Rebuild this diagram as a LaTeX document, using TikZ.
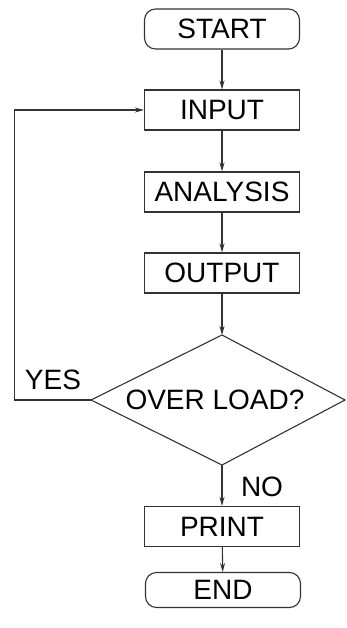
\documentclass[tikz,border=0pt]{standalone}
\usepackage{fontspec}
\setmainfont{Liberation Sans}
\usetikzlibrary{arrows.meta}
\begin{document}
\begin{tikzpicture}[x=1pt,y=-1pt,
  every node/.style={font=\fontsize{28}{32}\selectfont, text=black},
  boxnode/.style={draw=black!80, line width=1.1pt, minimum width=155pt, minimum height=40pt, inner sep=0pt},
  termnode/.style={boxnode, rounded corners=11pt},
  lbl/.style={inner sep=0pt},
  conn/.style={draw=black!80, line width=1.1pt, -{Stealth[length=9pt,width=5pt]}},
  plain/.style={draw=black!80, line width=1.1pt}
]
\useasboundingbox (0,0) rectangle (346,628);
\node[termnode] (start) at (222,29) {START};
\node[boxnode] (input) at (222,110) {INPUT};
\node[boxnode] (analysis) at (222,192) {ANALYSIS};
\node[boxnode] (output) at (222,273) {OUTPUT};
% decision diamond
\coordinate (dtop) at (222,335);
\coordinate (dleft) at (91,400);
\coordinate (dright) at (345,400);
\coordinate (dbot) at (222,465);
\draw[plain] (dtop) -- (dright) -- (dbot) -- (dleft) -- cycle;
\node[lbl] (dec) at (215,400) {OVER LOAD?};
\node[boxnode] (print) at (222,526.5) {PRINT};
\node[termnode, minimum height=35pt] (end) at (223,590) {END};
\node[lbl] (yes) at (53,380) {YES};
\node[lbl] (no) at (262,487) {NO};
\coordinate (loopc) at (14.5,400);
\coordinate (loopt) at (14.5,110);
% connectors
\draw[conn] (start) -- (input);
\draw[conn] (input) -- (analysis);
\draw[conn] (analysis) -- (output);
\draw[conn] (output) -- (dtop);
\draw[conn] (dbot) -- (print);
\draw[conn] (print) -- (end);
\draw[conn] (dleft) -- (loopc) -- (loopt) -- (input.west);
\end{tikzpicture}
\end{document}
